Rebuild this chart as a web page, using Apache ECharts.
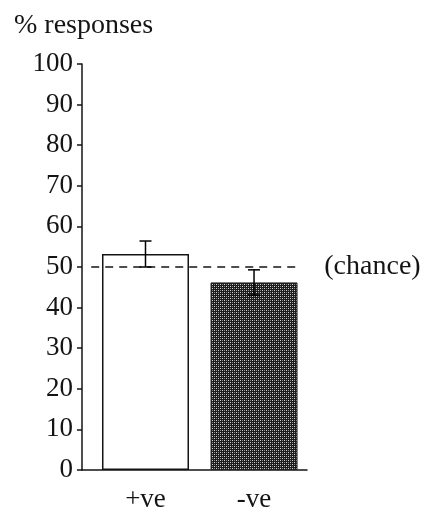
<!DOCTYPE html>
<html>
<head>
<meta charset="utf-8">
<script src="https://cdn.jsdelivr.net/npm/echarts@6/dist/echarts.min.js"></script>
<style>
html,body{margin:0;padding:0;background:#fff;}
#chart{width:425px;height:513px;}
</style>
</head>
<body>
<div id="chart"></div>
<script>
// ---- data ----
const categories = ['+ve', '-ve'];
const categoryPositions = [1, 2];
const meanValues = [53.2, 46.2];
const errorValues = [3.2, 3.1];
const chanceLevel = 50;
const chanceSpan = [0.5, 2.38];
const yTicks = [0, 10, 20, 30, 40, 50, 60, 70, 80, 90, 100];

const FONT = "'Liberation Serif', 'DejaVu Serif', serif";
const INK = '#141414';

// dark stipple pattern for the -ve bar
function makePattern() {
  const c = document.createElement('canvas');
  c.width = 4; c.height = 4;
  const g = c.getContext('2d');
  g.fillStyle = '#1c1c1c';
  g.fillRect(0, 0, 4, 4);
  g.fillStyle = '#d8d8d8';
  g.fillRect(0, 0, 1, 1);
  g.fillRect(2, 2, 1, 1);
  g.fillStyle = '#8a8a8a';
  g.fillRect(2, 0, 1, 1);
  g.fillRect(0, 2, 1, 1);
  return c;
}
const pattern = makePattern();

const barData = categoryPositions.map((x, i) => ({
  value: [x, meanValues[i]],
  itemStyle: i === 0
    ? { color: '#ffffff', borderColor: INK, borderWidth: 1.5 }
    : { color: { image: pattern, repeat: 'repeat' }, borderColor: '#222', borderWidth: 1 }
}));

const errData = categoryPositions.map((x, i) => [x, meanValues[i] - errorValues[i], meanValues[i] + errorValues[i]]);

const chart = echarts.init(document.getElementById('chart'), null, { renderer: 'canvas' });
chart.setOption({
  animation: false,
  backgroundColor: '#ffffff',
  title: {
    text: '% responses',
    left: 9, top: 7,
    textStyle: { fontFamily: FONT, fontSize: 28, fontWeight: 'normal', color: INK }
  },
  grid: { left: 82, right: 118, top: 64, bottom: 41, containLabel: false },
  xAxis: {
    type: 'value',
    min: 0.415, max: 2.488,
    splitLine: { show: false },
    axisLine: { show: true, onZero: false, lineStyle: { color: INK, width: 1.5 } },
    axisTick: { show: false },
    axisLabel: {
      customValues: categoryPositions,
      formatter: v => categories[categoryPositions.indexOf(Math.round(v))] || '',
      fontFamily: FONT, fontSize: 27, color: INK, margin: 16
    }
  },
  yAxis: {
    type: 'value',
    min: 0, max: 100, interval: 10,
    splitLine: { show: false },
    axisLine: { show: true, lineStyle: { color: INK, width: 1.5 } },
    axisTick: { show: true, length: 5, inside: false, lineStyle: { color: INK, width: 1.5 } },
    axisLabel: {
      fontFamily: FONT, fontSize: 27, color: INK, margin: 9,
      formatter: v => yTicks.includes(v) ? String(v) : ''
    }
  },
  series: [
    {
      type: 'bar',
      barWidth: 87,
      data: barData,
      z: 2,
      markLine: {
        silent: true,
        symbol: ['none', 'none'],
        lineStyle: { color: INK, type: [8, 6], width: 1.5 },
        label: {
          show: true, position: 'end', distance: 29,
          formatter: '(chance)',
          fontFamily: FONT, fontSize: 28, color: INK
        },
        data: [[{ coord: [chanceSpan[0], chanceLevel] }, { coord: [chanceSpan[1], chanceLevel] }]]
      }
    },
    {
      type: 'custom',
      z: 5,
      data: errData,
      renderItem: function (params, api) {
        const x = api.value(0);
        const lo = api.coord([x, api.value(1)]);
        const hi = api.coord([x, api.value(2)]);
        const hw = 6;
        const style = { stroke: '#000', lineWidth: 1.5 };
        return {
          type: 'group',
          children: [
            { type: 'line', shape: { x1: lo[0], y1: lo[1], x2: hi[0], y2: hi[1] }, style },
            { type: 'line', shape: { x1: hi[0] - hw, y1: hi[1], x2: hi[0] + hw, y2: hi[1] }, style },
            { type: 'line', shape: { x1: lo[0] - hw, y1: lo[1], x2: lo[0] + hw, y2: lo[1] }, style }
          ]
        };
      }
    }
  ]
});
</script>
</body>
</html>
